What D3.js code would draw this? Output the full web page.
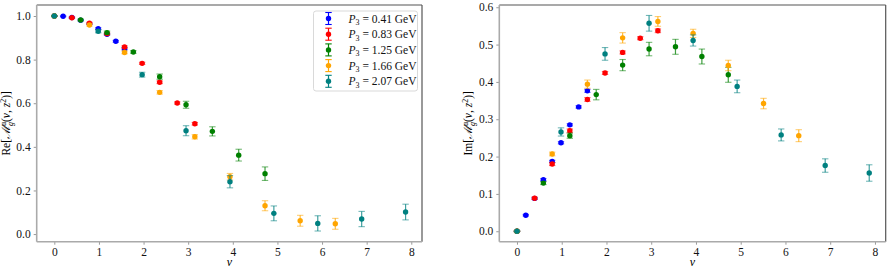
<!DOCTYPE html>
<html><head><meta charset="utf-8">
<script src="https://cdn.jsdelivr.net/npm/d3@7"></script>
<style>
body{margin:0;background:#fff;}
svg text{font-family:"Liberation Serif","Times New Roman",serif;}
</style></head>
<body><svg id="c" width="890" height="273"></svg>
<script>
// ---- data ----
const seriesLabels = ["0.41","0.83","1.25","1.66","2.07"];
const seriesColors = ["blue","red","green","orange","teal"];
const nuBlue   = [0, 0.197, 0.394, 0.590, 0.787, 0.984, 1.181, 1.378, 1.574];
const nuRed    = [0, 0.394, 0.787, 1.181, 1.574, 1.968, 2.361, 2.755, 3.149];
const nuGreen  = [0, 0.590, 1.181, 1.771, 2.361, 2.952, 3.542, 4.132, 4.722];
const nuOrange = [0, 0.787, 1.574, 2.361, 3.149, 3.936, 4.722, 5.510, 6.297];
const nuTeal   = [0, 0.984, 1.968, 2.952, 3.936, 4.920, 5.904, 6.888, 7.872];

const reBlue   = [1.000, 0.999, 0.993, 0.981, 0.964, 0.942, 0.916, 0.884, 0.850];
const reBlueE  = [0.001, 0.002, 0.002, 0.003, 0.003, 0.004, 0.004, 0.004, 0.005];
const reRed    = [1.000, 0.992, 0.967, 0.919, 0.858, 0.783, 0.696, 0.601, 0.506];
const reRedE   = [0.001, 0.003, 0.004, 0.004, 0.005, 0.005, 0.006, 0.005, 0.006];
const reGreen  = [1.000, 0.982, 0.924, 0.835, 0.722, 0.593, 0.471, 0.362, 0.277];
const reGreenE = [0.001, 0.004, 0.007, 0.006, 0.012, 0.016, 0.021, 0.027, 0.031];
const reOrange = [1.000, 0.959, 0.833, 0.650, 0.446, 0.263, 0.130, 0.061, 0.047];
const reOrangeE= [0.001, 0.005, 0.006, 0.008, 0.010, 0.015, 0.023, 0.025, 0.025];
const reTeal   = [1.000, 0.930, 0.731, 0.474, 0.240, 0.095, 0.049, 0.069, 0.101];
const reTealE  = [0.001, 0.007, 0.011, 0.023, 0.028, 0.034, 0.035, 0.035, 0.036];

const imBlue   = [0.000, 0.043, 0.088, 0.138, 0.187, 0.237, 0.285, 0.333, 0.376];
const imBlueE  = [0.001, 0.002, 0.002, 0.003, 0.003, 0.003, 0.003, 0.003, 0.004];
const imRed    = [0.000, 0.0885, 0.180, 0.269, 0.353, 0.424, 0.479, 0.517, 0.537];
const imRedE   = [0.001, 0.003, 0.004, 0.005, 0.005, 0.004, 0.004, 0.004, 0.005];
const imGreen  = [0.000, 0.129, 0.256, 0.366, 0.445, 0.488, 0.494, 0.468, 0.419];
const imGreenE = [0.001, 0.004, 0.007, 0.014, 0.015, 0.018, 0.020, 0.020, 0.020];
const imOrange = [0.000, 0.207, 0.394, 0.518, 0.562, 0.530, 0.444, 0.342, 0.256];
const imOrangeE= [0.001, 0.005, 0.011, 0.014, 0.013, 0.011, 0.014, 0.014, 0.016];
const imTeal   = [0.000, 0.266, 0.475, 0.557, 0.511, 0.388, 0.258, 0.176, 0.156];
const imTealE  = [0.001, 0.011, 0.017, 0.021, 0.015, 0.017, 0.016, 0.018, 0.022];

const xTicks = [0,1,2,3,4,5,6,7,8];
const reTicks = [0.0,0.2,0.4,0.6,0.8,1.0];
const imTicks = [0.0,0.1,0.2,0.3,0.4,0.5,0.6];

const nus = [nuBlue, nuRed, nuGreen, nuOrange, nuTeal];
const reVals = [reBlue, reRed, reGreen, reOrange, reTeal];
const reErrs = [reBlueE, reRedE, reGreenE, reOrangeE, reTealE];
const imVals = [imBlue, imRed, imGreen, imOrange, imTeal];
const imErrs = [imBlueE, imRedE, imGreenE, imOrangeE, imTealE];

const svg = d3.select("#c");

function panel(opt){
  const {left,right,top,bottom,xDom,yDom,yTicks,vals,errs,ylab,legend} = opt;
  const x = d3.scaleLinear().domain(xDom).range([left,right]);
  const y = d3.scaleLinear().domain(yDom).range([bottom,top]);
  const g = svg.append("g");
  // axes
  const xa = g.append("g").attr("transform",`translate(0,${bottom})`)
    .call(d3.axisBottom(x).tickValues(xTicks).tickFormat(d3.format("d")).tickSize(3).tickPadding(3));
  const ya = g.append("g").attr("transform",`translate(${left},0)`)
    .call(d3.axisLeft(y).tickValues(yTicks).tickFormat(d3.format(".1f")).tickSize(3).tickPadding(3));
  [xa,ya].forEach(a=>{
    a.select(".domain").remove();
    a.selectAll(".tick line").attr("stroke","#999");
    a.selectAll(".tick text").attr("font-size",11.5).attr("fill","#111")
      .style("font-family",'"Liberation Serif",serif');
  });
  // frame
  g.append("line").attr("x1",left).attr("x2",right).attr("y1",top).attr("y2",top).attr("stroke","#555").attr("stroke-width",1.2);
  g.append("line").attr("x1",right).attr("x2",right).attr("y1",top).attr("y2",bottom).attr("stroke","#555").attr("stroke-width",1.2);
  g.append("line").attr("x1",left).attr("x2",left).attr("y1",top).attr("y2",bottom).attr("stroke","#aaa").attr("stroke-width",1.6);
  g.append("line").attr("x1",left).attr("x2",right).attr("y1",bottom).attr("y2",bottom).attr("stroke","#aaa").attr("stroke-width",1.6);
  // data
  nus.forEach((nu,si)=>{
    const col = seriesColors[si];
    const sg = g.append("g");
    nu.forEach((v,i)=>{
      const cx = x(v), y0 = y(vals[si][i]-errs[si][i]), y1 = y(vals[si][i]+errs[si][i]);
      sg.append("line").attr("x1",cx).attr("x2",cx).attr("y1",y0).attr("y2",y1)
        .attr("stroke",col).attr("stroke-width",1.2).attr("stroke-opacity",0.75);
      [y0,y1].forEach(yy=>sg.append("line").attr("x1",cx-3.2).attr("x2",cx+3.2).attr("y1",yy).attr("y2",yy)
        .attr("stroke",col).attr("stroke-width",1.1).attr("stroke-opacity",0.55));
      sg.append("circle").attr("cx",cx).attr("cy",y(vals[si][i])).attr("r",2.7).attr("fill",col);
    });
  });
  // labels
  const xl = g.append("text").attr("x",(left+right)/2).attr("y",266).attr("text-anchor","middle")
    .attr("font-size",12).attr("font-style","italic").text("ν");
  const yl = g.append("text").attr("transform",`translate(${left-27},${(top+bottom)/2}) rotate(-90)`)
    .attr("text-anchor","middle").attr("font-size",11.5);
  yl.append("tspan").text(ylab+"[");
  yl.append("tspan").attr("font-style","italic").text("ℳ");
  yl.append("tspan").attr("font-size",8).attr("dy",-4).text("u");
  yl.append("tspan").attr("font-size",8).attr("font-style","italic").attr("dx",-4).attr("dy",7).text("g");
  yl.append("tspan").attr("dy",-3).text("(");
  yl.append("tspan").attr("font-style","italic").text("ν");
  yl.append("tspan").text(", ");
  yl.append("tspan").attr("font-style","italic").text("z");
  yl.append("tspan").attr("font-size",8).attr("dy",-4).text("2");
  yl.append("tspan").attr("dy",4).text(")]");
  if(legend){
    const lx = 313.5, ly = 11, lw = 104, lh = 80;
    g.append("rect").attr("x",lx).attr("y",ly).attr("width",lw).attr("height",lh).attr("rx",2.5)
      .attr("fill","#fff").attr("fill-opacity",0.85).attr("stroke","#d9d9d9").attr("stroke-width",1);
    seriesLabels.forEach((lab,i)=>{
      const cy = ly+7.5+i*15.7, cx = lx+15;
      const col = seriesColors[i];
      g.append("line").attr("x1",cx).attr("x2",cx).attr("y1",cy-6).attr("y2",cy+6).attr("stroke",col).attr("stroke-width",1.2);
      [cy-6,cy+6].forEach(yy=>g.append("line").attr("x1",cx-3.2).attr("x2",cx+3.2).attr("y1",yy).attr("y2",yy).attr("stroke",col).attr("stroke-width",1.1));
      g.append("circle").attr("cx",cx).attr("cy",cy).attr("r",2.7).attr("fill",col);
      const t = g.append("text").attr("x",lx+35).attr("y",cy+4).attr("font-size",11.5).attr("fill","#111");
      t.append("tspan").attr("font-style","italic").text("P");
      t.append("tspan").attr("font-size",8).attr("dy",2.5).text("3");
      t.append("tspan").attr("dy",-2.5).text(" = "+lab+" GeV");
    });
  }
}

panel({left:36.7,right:422,top:5,bottom:241.7,xDom:[-0.395,8.24],yDom:[-0.035,1.0505],
  yTicks:reTicks,vals:reVals,errs:reErrs,ylab:"Re",legend:true});
panel({left:499.3,right:885.7,top:5,bottom:241.7,xDom:[-0.395,8.24],yDom:[-0.028,0.606],
  yTicks:imTicks,vals:imVals,errs:imErrs,ylab:"Im",legend:false});
</script></body></html>
